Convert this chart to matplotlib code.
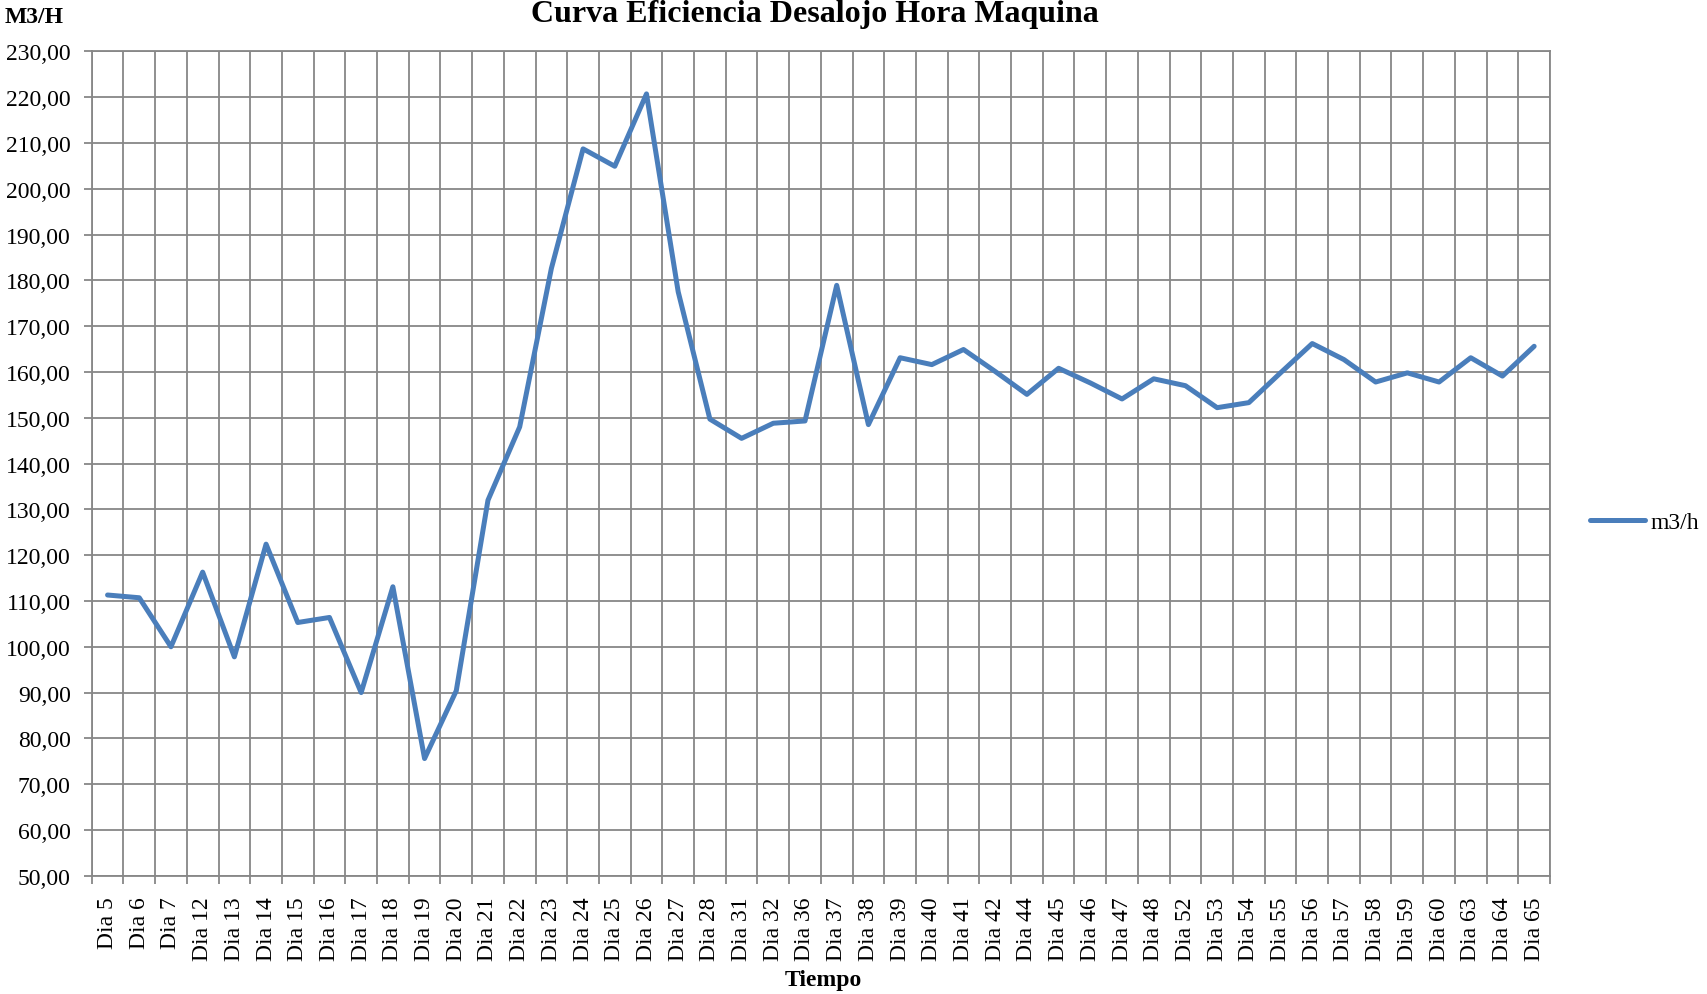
import numpy as np
import matplotlib
matplotlib.use('Agg')
from matplotlib import pyplot as plt

plt.rcParams['font.family'] = ['Liberation Serif', 'DejaVu Serif']

dias = [5, 6, 7, 12, 13, 14, 15, 16, 17, 18, 19, 20, 21, 22, 23, 24, 25, 26, 27, 28,
        31, 32, 36, 37, 38, 39, 40, 41, 42, 44, 45, 46, 47, 48, 52, 53, 54, 55, 56, 57,
        58, 59, 60, 63, 64, 65]
m3h = [111.3, 110.7, 100.0, 116.3, 97.8, 122.4, 105.3, 106.4, 90.0, 113.1,
       75.6, 90.4, 132.0, 148.0, 182.6, 208.7, 204.9, 220.7, 177.5, 149.7,
       145.5, 148.8, 149.3, 178.9, 148.5, 163.1, 161.6, 164.9, 160.1, 155.1,
       160.8, 157.6, 154.1, 158.5, 157.0, 152.2, 153.3, 159.8, 166.2, 162.7,
       157.8, 159.8, 157.8, 163.1, 159.1, 165.6]
labels = ['Dia ' + str(d) for d in dias]
y_ticks = list(range(50, 231, 10))

W, H = 1708, 995
fig = plt.figure(figsize=(W / 100, H / 100), dpi=100)
ax = fig.add_axes([91.7 / W, 1 - 876.8 / H, (1550 - 91.7) / W, (876.8 - 52.3) / H])

grid_col = '#878787'
line_col = '#4a7ebb'

x = np.arange(len(m3h))
line, = ax.plot(x, m3h, color=line_col, linewidth=3.6, solid_joinstyle='round',
                solid_capstyle='round', label='m3/h', zorder=3)

ax.set_xlim(-0.5, len(m3h) - 0.5)
ax.set_ylim(50, 230)

# category boundaries carry the grid, labels sit in between
ax.set_xticks(np.arange(-0.5, len(m3h), 1))
ax.set_xticklabels([])
ax.set_xticks(x, minor=True)
ax.set_xticklabels(labels, minor=True, rotation=90, fontsize=17)
ax.tick_params(axis='x', which='minor', length=0, pad=15)
ax.tick_params(axis='x', which='major', length=6, width=1.3, color=grid_col)

ax.set_yticks(y_ticks)
ax.set_yticklabels(['{:.2f}'.format(v).replace('.', ',') for v in y_ticks], fontsize=17)
ax.tick_params(axis='y', length=6, width=1.3, color=grid_col, pad=9)

ax.grid(True, which='major', color=grid_col, linewidth=1.3)
ax.set_axisbelow(True)
for s in ax.spines.values():
    s.set_color(grid_col)
    s.set_linewidth(1.3)

fig.text(815 / W, 1 - 22 / H, 'Curva Eficiencia Desalojo Hora Maquina',
         ha='center', va='baseline', fontsize=23, fontweight='bold')
fig.text(5 / W, 1 - 22.7 / H, 'M3/H', ha='left', va='baseline',
         fontsize=17, fontweight='bold')
fig.text(823 / W, 1 - 986 / H, 'Tiempo', ha='center', va='baseline',
         fontsize=17, fontweight='bold')

fig.legend(handles=[line], loc='center left', bbox_to_anchor=(1590 / W, 1 - 523 / H),
           bbox_transform=fig.transFigure, frameon=False, fontsize=17,
           handlelength=2.35, handletextpad=0.2, borderpad=0, borderaxespad=0)

fig.savefig('out.png', dpi=100)
